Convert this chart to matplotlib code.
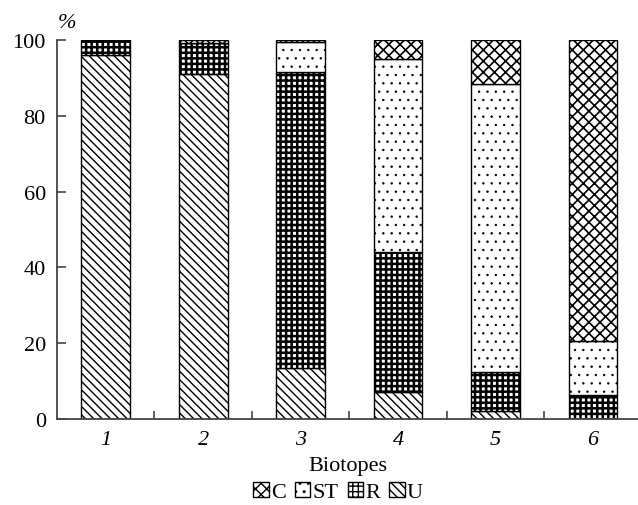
import numpy as np
import matplotlib.pyplot as plt
from matplotlib.patches import Patch

plt.rcParams['font.family'] = ['Liberation Serif', 'DejaVu Serif']
plt.rcParams['hatch.linewidth'] = 1.0

biotopes = ['1', '2', '3', '4', '5', '6']
U = [96.0, 91.0, 13.5, 7.0, 2.0, 0.0]
R = [4.0, 8.3, 78.0, 37.0, 10.5, 6.3]
ST = [0.0, 0.0, 8.0, 51.0, 76.0, 14.4]
C = [0.0, 0.7, 0.5, 5.0, 11.5, 79.3]

# name, values, hatch, hatch line width
series = [('U', U, '\\\\\\\\', 1.0), ('R', R, '+++', 1.8), ('ST', ST, '..', 0.5), ('C', C, 'xxx', 1.2)]


def hatched(p, lw):
    if hasattr(p, 'set_hatch_linewidth'):
        p.set_hatch_linewidth(lw)


fig = plt.figure(figsize=(6.38, 5.06), dpi=100)
ax = fig.add_axes([0.0893, 0.17, 0.912, 0.749])

x = np.arange(1, 7)
bottom = np.zeros(6)
for name, vals, hatch, hlw in series:
    bars = ax.bar(x, vals, width=0.5, bottom=bottom, color='white', edgecolor='black',
                  hatch=hatch, linewidth=1.0)
    for b in bars:
        hatched(b, hlw)
    bottom += np.array(vals)

ax.set_xlim(0.5, 6.47)
ax.set_ylim(0, 100)
ax.set_xticks(x)
ax.set_xticklabels(biotopes, style='italic', fontsize=16)
ax.set_xticks(np.arange(1.5, 6, 1), minor=True)
ax.tick_params(axis='x', which='major', length=0, pad=8)
ax.tick_params(axis='x', which='minor', direction='in', length=6, width=1.2, color='#444')
ax.set_yticks([0, 20, 40, 60, 80, 100])
ax.tick_params(axis='y', direction='in', length=6.5, width=1.2, color='#444', labelsize=16, pad=8)

for s in ['top', 'right']:
    ax.spines[s].set_visible(False)
for s in ['left', 'bottom']:
    ax.spines[s].set_color('#444')
    ax.spines[s].set_linewidth(1.3)

ax.text(0.017, 1.02, '%', transform=ax.transAxes, fontsize=16, style='italic', ha='center', va='bottom')
ax.set_xlabel('Biotopes', fontsize=16, labelpad=5)

handles = []
for name, hatch, hlw in [('C', 'xxx', 1.2), ('ST', '..', 0.5), ('R', '+++', 1.8), ('U', '\\\\\\\\', 1.0)]:
    p = Patch(facecolor='white', edgecolor='black', hatch=hatch, label=name)
    hatched(p, hlw)
    handles.append(p)
fig.legend(handles=handles, loc='center', bbox_to_anchor=(0.53, 0.026), ncol=4, frameon=False,
           fontsize=16, handlelength=0.7, handleheight=0.7, handletextpad=0.1, columnspacing=0.4)

fig.savefig('out.png', dpi=100)
